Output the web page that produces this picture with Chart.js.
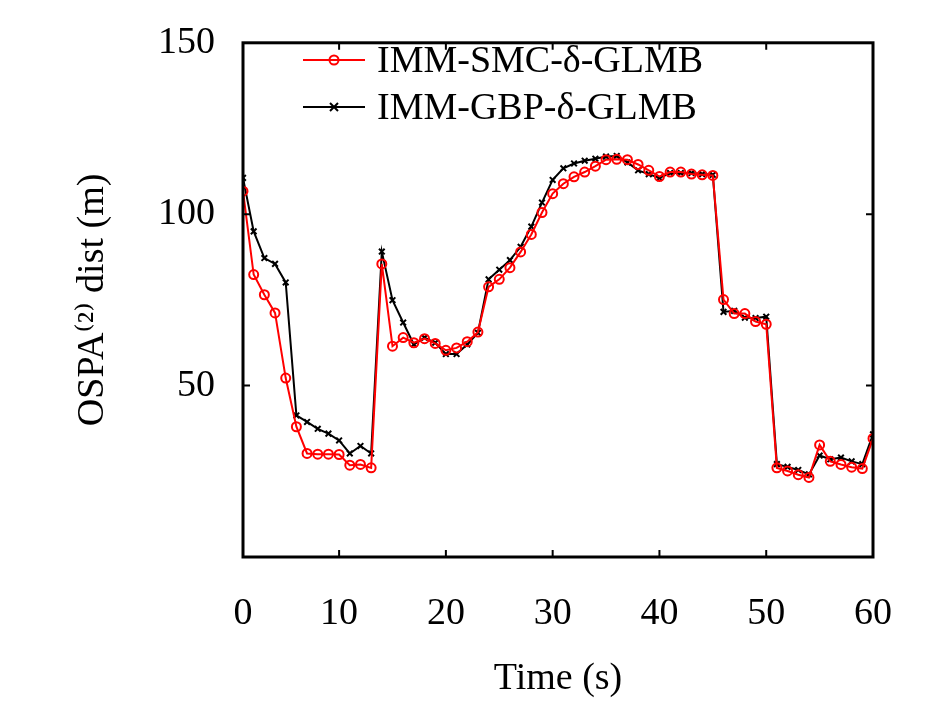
<!DOCTYPE html>
<html><head><meta charset="utf-8">
<script src="https://cdn.jsdelivr.net/npm/chart.js@4/dist/chart.umd.min.js"></script>
<style>body{margin:0;background:#fff}#wrap{width:945px;height:706px}</style>
</head><body><div id="wrap"><canvas id="chart"></canvas></div>
<script>
var times = [];
for (var i = 1; i <= 60; i++) times.push(i);
var smcValues = [106.7,82.4,76.5,71.2,52.2,38,30.2,30,30,29.9,26.8,27,26,85.5,61.5,64,62.5,63.7,62.3,60.3,
  61,62.8,65.6,78.8,81,84.4,89,94.1,100.5,106,108.9,110.9,112.3,114,115.9,116,115.9,114.5,112.8,111,
  112.3,112.3,111.7,111.5,111.3,75.1,71,71,68.7,67.9,26,25.1,24,23.2,32.7,27.9,27,26.2,25.8,34.6];
var gbpValues = [110.6,95,87.2,85.5,80.1,41.3,39.4,37.4,36,34,30.2,32.4,30.2,89.1,74.9,68.4,62,64,62.5,59.2,
  59.2,62,65.4,81,83.8,86.6,90.5,96.4,103.4,110,113.4,114.8,115.6,116.2,116.8,117,115.1,112.8,111.7,110.6,
  112,112,112,111.7,111.5,71.5,71.8,69.8,69.7,70.1,27.1,26.3,25.4,24.1,29.6,28.5,29,27.9,27.1,35.8];
var xTicks = [1,10,20,30,40,50,60];
var yTicks = [0,50,100,150];
var seriesNames = ['IMM-SMC-\u03b4-GLMB','IMM-GBP-\u03b4-GLMB'];

var serif = '"Liberation Serif", "DejaVu Serif", serif';

function pts(vals) {
    return vals.map(function (v, i) { return {x: times[i], y: v}; });
}

// frame, inward ticks and the legend box
var decor = {
    id: 'decor',
    afterDraw: function (chart) {
        var ctx = chart.ctx, a = chart.chartArea;
        var xs = chart.scales.x, ys = chart.scales.y;
        ctx.save();
        ctx.strokeStyle = '#000';
        ctx.lineWidth = 3;
        ctx.strokeRect(a.left, a.top, a.right - a.left, a.bottom - a.top);
        ctx.lineWidth = 2;
        [10,20,30,40,50].forEach(function (t) {
            var px = xs.getPixelForValue(t);
            ctx.beginPath(); ctx.moveTo(px, a.bottom); ctx.lineTo(px, a.bottom - 7);
            ctx.moveTo(px, a.top); ctx.lineTo(px, a.top + 7); ctx.stroke();
        });
        [50,100].forEach(function (v) {
            var py = ys.getPixelForValue(v);
            ctx.beginPath(); ctx.moveTo(a.left, py); ctx.lineTo(a.left + 7, py);
            ctx.moveTo(a.right, py); ctx.lineTo(a.right - 7, py); ctx.stroke();
        });
        // legend
        ctx.font = '38px ' + serif;
        ctx.textBaseline = 'middle';
        ctx.fillStyle = '#000';
        var rows = [{y: 60, c: '#ff0000', mark: 'circle'}, {y: 107, c: '#000', mark: 'cross'}];
        rows.forEach(function (r, k) {
            ctx.strokeStyle = r.c; ctx.lineWidth = 2;
            ctx.beginPath(); ctx.moveTo(303, r.y); ctx.lineTo(365, r.y); ctx.stroke();
            if (r.mark === 'circle') {
                ctx.beginPath(); ctx.arc(334, r.y, 4.5, 0, Math.PI * 2); ctx.stroke();
            } else {
                ctx.beginPath(); ctx.moveTo(330, r.y - 4); ctx.lineTo(338, r.y + 4);
                ctx.moveTo(338, r.y - 4); ctx.lineTo(330, r.y + 4); ctx.stroke();
            }
            ctx.fillText(seriesNames[k], 377, r.y + 2);
        });
        ctx.restore();
    }
};

new Chart(document.getElementById('chart'), {
    type: 'line',
    data: {
        datasets: [
            {label: seriesNames[0], data: pts(smcValues), borderColor: '#ff0000', borderWidth: 2,
             pointStyle: 'circle', pointRadius: 4.5, pointBorderWidth: 2, pointBorderColor: '#ff0000',
             pointBackgroundColor: 'rgba(0,0,0,0)', tension: 0},
            {label: seriesNames[1], data: pts(gbpValues), borderColor: '#000', borderWidth: 2,
             pointStyle: 'crossRot', pointRadius: 4, pointBorderWidth: 2, pointBorderColor: '#000', tension: 0}
        ]
    },
    options: {
        responsive: true,
        maintainAspectRatio: false,
        animation: false,
        layout: {padding: {top: 4, right: 72, left: 66, bottom: 0}},
        plugins: {legend: {display: false}, tooltip: {enabled: false}},
        scales: {
            x: {
                type: 'linear', min: 1, max: 60,
                afterBuildTicks: function (s) { s.ticks = xTicks.map(function (v) { return {value: v}; }); },
                afterFit: function (s) { s.height = 149; },
                grid: {display: false},
                border: {display: false},
                ticks: {color: '#000', font: {family: serif, size: 38}, padding: 26, maxRotation: 0,
                    callback: function (v) { return v === 1 ? '0' : String(v); }},
                title: {display: true, text: 'Time (s)', color: '#000', font: {family: serif, size: 38}, padding: {top: 10}}
            },
            y: {
                min: 0, max: 150,
                afterBuildTicks: function (s) { s.ticks = yTicks.map(function (v) { return {value: v}; }); },
                afterFit: function (s) { s.width = 177; },
                grid: {display: false},
                border: {display: false},
                ticks: {color: '#000', font: {family: serif, size: 38}, padding: 20,
                    callback: function (v) { return v === 0 ? '' : String(v); }},
                title: {display: true, text: 'OSPA\u207d\u00b2\u207e dist (m)', color: '#000', font: {family: serif, size: 38}, padding: {bottom: 8}}
            }
        }
    },
    plugins: [decor]
});
</script>
</body></html>
